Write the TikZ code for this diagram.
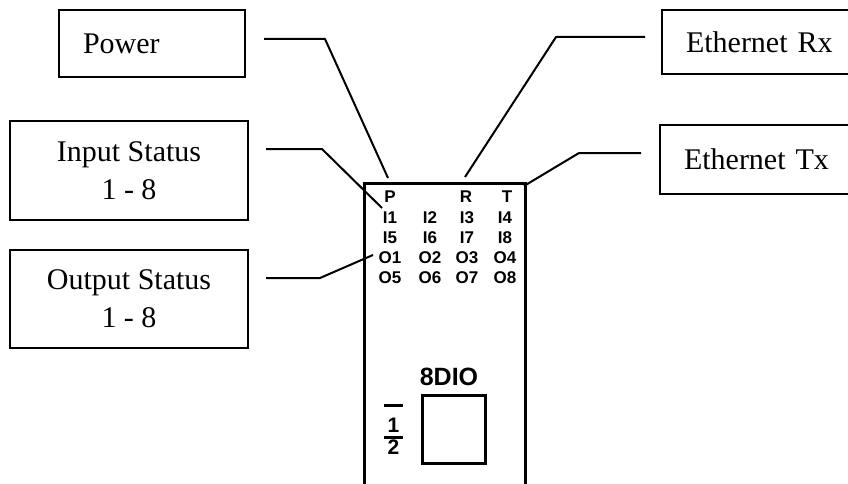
\documentclass[tikz,border=0pt]{standalone}
\usepackage{fontspec}
\setmainfont{Liberation Serif}
\setsansfont{Liberation Sans}
\usepackage{tikz}
\usetikzlibrary{positioning}

\begin{document}
\begin{tikzpicture}[x=1pt,y=-1pt,
    lbl/.style={draw,line width=2.4pt,inner sep=0pt,font=\fontsize{30}{38}\selectfont},
    lblleft/.style={lbl,align=left,inner xsep=24pt},
    lead/.style={line width=2pt,line join=round},
    led/.style={inner sep=0pt,font=\sffamily\bfseries\fontsize{17}{17}\selectfont},
    device/.style={line width=3pt}]
    \useasboundingbox (0,0) rectangle (848,484);
    \clip (0,0) rectangle (848,484);
    % label boxes
    \node[lblleft,text width=138pt,minimum height=67pt] (power) at (152,43.5) {Power};
    \node[lbl,align=center,minimum width=238pt,minimum height=99pt] (instat) at (129,170.5) {Input Status\\1 - 8};
    \node[lbl,align=center,minimum width=238pt,minimum height=98pt] (outstat) at (129,299) {Output Status\\1 - 8};
    \node[lblleft,text width=152pt,minimum height=64pt] (ethrx) at (762,42) {Ethernet Rx};
    \node[lblleft,text width=152pt,minimum height=69pt] (ethtx) at (760,159.5) {Ethernet Tx};
    % module outline
    \draw[device] (364,490)--(364,183)--(525,183)--(525,490);
    \node[led] (P) at (390,197) {P};
    \node[led] (R) at (466,197) {R};
    \node[led] (T) at (507,197) {T};
    \node[led] (I1) at (390,218) {I1};
    \node[led] (I2) at (430,218) {I2};
    \node[led] (I3) at (467,218) {I3};
    \node[led] (I4) at (505,218) {I4};
    \node[led] (I5) at (390,237.5) {I5};
    \node[led] (I6) at (430,237.5) {I6};
    \node[led] (I7) at (467,237.5) {I7};
    \node[led] (I8) at (505,237.5) {I8};
    \node[led] (O1) at (390,257.5) {O1};
    \node[led] (O2) at (430,257.5) {O2};
    \node[led] (O3) at (467,257.5) {O3};
    \node[led] (O4) at (505,257.5) {O4};
    \node[led] (O5) at (390,277.5) {O5};
    \node[led] (O6) at (430,277.5) {O6};
    \node[led] (O7) at (467,277.5) {O7};
    \node[led] (O8) at (505,277.5) {O8};
    \node[inner sep=0pt,font=\sffamily\bfseries\fontsize{25}{25}\selectfont] (name) at (449,377) {8DIO};
    \node[draw,line width=3pt,minimum width=63pt,minimum height=68pt,inner sep=0pt] (swbox) at (453.5,429) {};
    \node[inner sep=0pt,font=\sffamily\bfseries\fontsize{21}{21}\selectfont] (one) at (393.5,425.5) {1};
    \node[inner sep=0pt,font=\sffamily\bfseries\fontsize{21}{21}\selectfont] (two) at (393.5,447.5) {2};
    \draw[line width=3pt] (384,405)--(403,405);
    \draw[line width=3pt] (384,437)--(403,437);
    % leader lines
    \coordinate (powerA) at (264,39);
    \coordinate (powerB) at (325,39);
    \coordinate (powerC) at (388,178);
    \coordinate (inA) at (266,149);
    \coordinate (inB) at (322,149);
    \coordinate (inC) at (382,208);
    \coordinate (outA) at (266,278);
    \coordinate (outB) at (320,278);
    \coordinate (outC) at (373,255);
    \coordinate (rxA) at (645,37);
    \coordinate (rxB) at (556,37);
    \coordinate (rxC) at (465,177);
    \coordinate (txA) at (641,153);
    \coordinate (txB) at (579,153);
    \coordinate (txC) at (524,186);
    \draw[lead] (powerA)--(powerB)--(powerC);
    \draw[lead] (inA)--(inB)--(inC);
    \draw[lead] (outA)--(outB)--(outC);
    \draw[lead] (rxA)--(rxB)--(rxC);
    \draw[lead] (txA)--(txB)--(txC);
\end{tikzpicture}
\end{document}
